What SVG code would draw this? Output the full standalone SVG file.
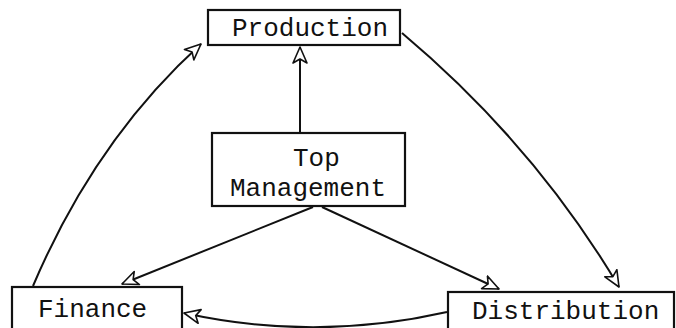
<svg xmlns="http://www.w3.org/2000/svg" width="676" height="328" viewBox="0 0 676 328">
<style>
  .box{fill:#fff;stroke:#111;stroke-width:2.2}
  .lbl{font-family:"Liberation Mono","Courier New",monospace;font-size:26px;fill:#111}
  .edge{fill:none;stroke:#111;stroke-width:2}
</style>
<defs>
  <marker id="arr" markerUnits="userSpaceOnUse" markerWidth="20" markerHeight="18" refX="17" refY="8" orient="auto">
    <path d="M1,1 L17,8 L1,15 L5,8 Z" fill="#fff" stroke="#111" stroke-width="1.6" stroke-linejoin="round"/>
  </marker>
</defs>
<rect width="676" height="328" fill="#fff"/>
<g id="connectors">
  <path class="edge" d="M300,132 L300,47" marker-end="url(#arr)"/>
  <path class="edge" d="M33,286 Q95,140 201,44" marker-end="url(#arr)"/>
  <path class="edge" d="M402,33 Q535,145 619,287" marker-end="url(#arr)"/>
  <path class="edge" d="M313,207 L122,284" marker-end="url(#arr)"/>
  <path class="edge" d="M322,207 L499,289" marker-end="url(#arr)"/>
  <path class="edge" d="M447,312 Q315,342 184,313" marker-end="url(#arr)"/>
</g>
<g id="production">
  <rect class="box" x="208" y="10" width="192" height="35"/>
  <text class="lbl" x="232" y="36">Production</text>
</g>
<g id="top-management">
  <rect class="box" x="212" y="133" width="193" height="73"/>
  <text class="lbl" x="293" y="166">Top</text>
  <text class="lbl" x="230" y="196">Management</text>
</g>
<g id="finance">
  <rect class="box" x="12" y="287" width="170" height="50"/>
  <text class="lbl" x="38" y="317">Finance</text>
</g>
<g id="distribution">
  <rect class="box" x="448" y="292" width="226" height="45"/>
  <text class="lbl" x="472" y="319">Distribution</text>
</g>
</svg>
